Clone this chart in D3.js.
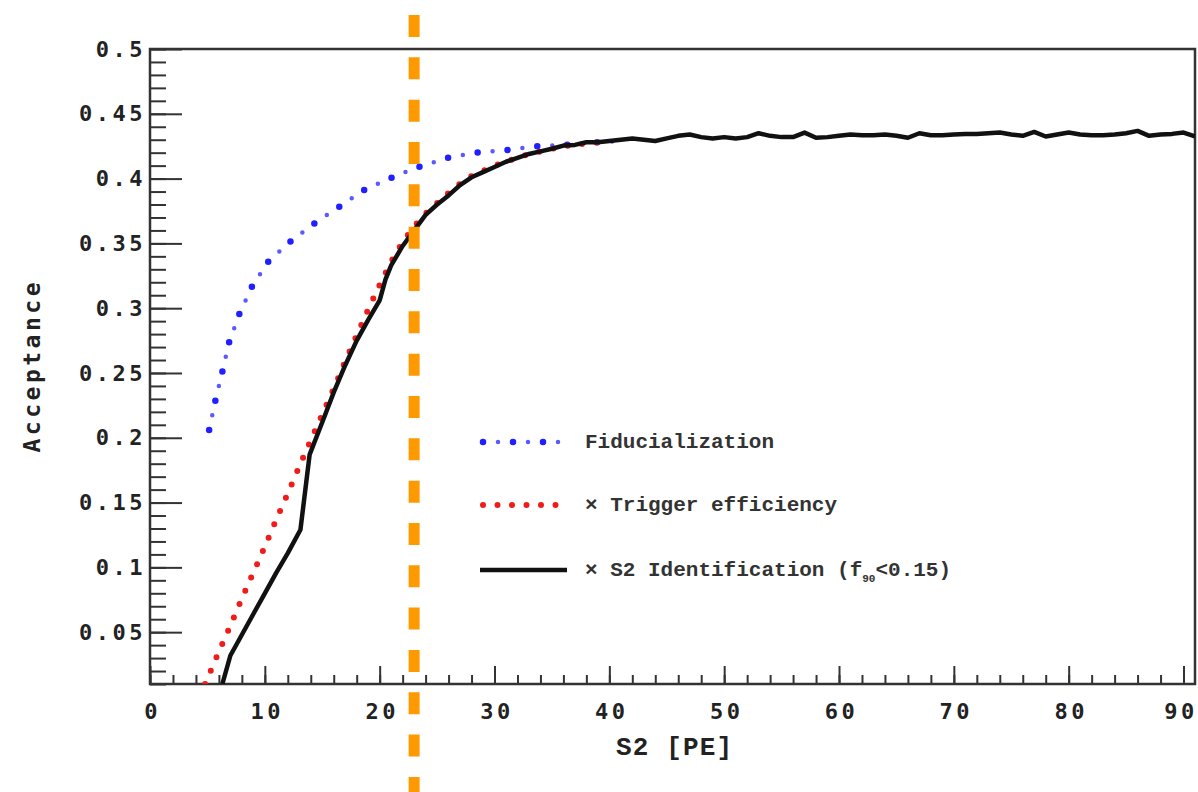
<!DOCTYPE html>
<html>
<head>
<meta charset="utf-8">
<script src="https://cdn.jsdelivr.net/npm/d3@7"></script>
<style>
  body { margin: 0; background: #fff; }
  svg { display: block; }
</style>
</head>
<body>
<div id="chart"></div>
<script>
// S2 values [PE] and acceptance
const fidX = [5.15, 5.7, 6.3, 6.9, 7.8, 8.9, 10.3, 12.3, 14.4, 16.6, 18.6, 21.1, 23.4, 25.9, 28.4, 31, 33.6, 36.2, 39, 41];
const fidY = [0.206, 0.229, 0.251, 0.274, 0.296, 0.317, 0.336, 0.352, 0.366, 0.379, 0.391, 0.401, 0.409, 0.416, 0.42, 0.422, 0.425, 0.426, 0.428, 0.429];

const trigX = [4.8, 6, 7, 8, 9, 10, 11, 12, 13, 14, 15, 16, 17, 18, 19, 20, 21, 22, 23, 24, 25, 26, 27, 28, 30, 33, 36, 40];
const trigY = [0.01, 0.035, 0.055, 0.076, 0.096, 0.116, 0.137, 0.157, 0.178, 0.198, 0.218, 0.238, 0.259, 0.279, 0.299, 0.318, 0.336, 0.351, 0.363, 0.373, 0.381, 0.389, 0.396, 0.402, 0.41, 0.419, 0.425, 0.429];

const idX = [6.3, 7, 8, 9, 10, 11, 12, 13.1, 13.9, 15, 16, 17, 18, 19, 20, 20.5, 21, 22, 23, 24, 25, 26, 27, 28, 29, 30, 31, 32, 33, 34, 35,
  36, 37, 38, 39, 40, 41, 42, 43, 44, 45, 46, 47, 48, 49, 50, 51, 52, 53, 54, 55, 56, 57, 58, 59, 60, 61, 62, 63, 64, 65,
  66, 67, 68, 69, 70, 71, 72, 73, 74, 75, 76, 77, 78, 79, 80, 81, 82, 83, 84, 85, 86, 87, 88, 89, 90, 91];
const idY = [0.01, 0.032, 0.048, 0.064, 0.08, 0.096, 0.111, 0.129, 0.187, 0.212, 0.235, 0.256, 0.275, 0.291, 0.306, 0.322, 0.333, 0.348, 0.36, 0.372, 0.38, 0.387, 0.395, 0.401, 0.405, 0.409, 0.413, 0.416, 0.419, 0.421, 0.423,
  0.4255, 0.426, 0.428, 0.428, 0.429, 0.43, 0.431, 0.43, 0.429, 0.431, 0.433, 0.434, 0.432, 0.431, 0.432, 0.431, 0.432, 0.435, 0.433, 0.432, 0.432, 0.4355, 0.4315, 0.432, 0.433, 0.434, 0.4335, 0.4335, 0.434, 0.433,
  0.4315, 0.435, 0.4335, 0.4335, 0.434, 0.4345, 0.4345, 0.435, 0.4355, 0.434, 0.433, 0.436, 0.4325, 0.434, 0.4355, 0.434, 0.4335, 0.4335, 0.434, 0.435, 0.4368, 0.433, 0.434, 0.4345, 0.4355, 0.4325];

const cutX = 23;

const xMajor = [0, 10, 20, 30, 40, 50, 60, 70, 80, 90];
const xMinor = d3.range(0, 92, 2);
const yMajor = [0.05, 0.1, 0.15, 0.2, 0.25, 0.3, 0.35, 0.4, 0.45, 0.5];
const yMinor = d3.range(1, 51).map(d => d / 100);

const legendLabels = ["Fiducialization", "\u00d7 Trigger efficiency", "\u00d7 S2 Identification (f"];

const W = 1198, H = 792;
const svg = d3.select("#chart").append("svg").attr("width", W).attr("height", H);

const x = d3.scaleLinear().domain([0, 91]).range([150, 1195]);
const y = d3.scaleLinear().domain([0.01, 0.5]).range([684, 49]);

const frameColor = "#333";
const tickFont = "'DejaVu Sans Mono', monospace";
const monoFont = "'Liberation Mono', 'Courier New', monospace";

svg.append("clipPath").attr("id", "plot")
  .append("rect").attr("x", x(0)).attr("y", y(0.5))
  .attr("width", x(91) - x(0)).attr("height", y(0.01) - y(0.5));

// ticks point inward, labels outside
function styleAxis(g) {
  g.select(".domain").remove();
  g.selectAll(".tick line").attr("stroke", frameColor).attr("stroke-width", 2);
  g.selectAll("text")
    .attr("font-family", tickFont).attr("font-weight", "bold")
    .attr("font-size", 22).attr("fill", "#222")
    .attr("letter-spacing", 3.5);
}

svg.append("g").attr("transform", `translate(${x(0)},0)`)
  .call(d3.axisLeft(y).tickValues(yMinor).tickSize(-16).tickFormat(""))
  .call(styleAxis);
svg.append("g").attr("transform", `translate(${x(0)},0)`)
  .call(d3.axisLeft(y).tickValues(yMajor).tickSize(-32).tickPadding(4).tickFormat(d => String(+d.toFixed(2))))
  .call(styleAxis);

svg.append("g").attr("transform", `translate(0,${y(0.01)})`)
  .call(d3.axisBottom(x).tickValues(xMinor).tickSize(-9).tickFormat(""))
  .call(styleAxis);
svg.append("g").attr("transform", `translate(0,${y(0.01)})`)
  .call(d3.axisBottom(x).tickValues(xMajor).tickSize(-18).tickPadding(19).tickFormat(d3.format("d")))
  .call(styleAxis)
  .selectAll("text").attr("dx", d => d === 90 ? -3 : 2);

// frame
svg.append("rect")
  .attr("x", x(0)).attr("y", y(0.5))
  .attr("width", x(91) - x(0)).attr("height", y(0.01) - y(0.5))
  .attr("fill", "none").attr("stroke", frameColor).attr("stroke-width", 2.5);

// axis titles
svg.append("text")
  .attr("transform", `translate(40,${(y(0.5) + y(0.01)) / 2 + 1}) rotate(-90)`)
  .attr("text-anchor", "middle")
  .attr("font-family", tickFont).attr("font-weight", "bold").attr("font-size", 23)
  .attr("fill", "#222").attr("textLength", 170).attr("lengthAdjust", "spacing")
  .text("Acceptance");

svg.append("text")
  .attr("x", 674).attr("y", 755)
  .attr("text-anchor", "middle")
  .attr("font-family", monoFont).attr("font-weight", "bold").attr("font-size", 26)
  .attr("fill", "#222").attr("textLength", 116).attr("lengthAdjust", "spacing")
  .text("S2 [PE]");

const line = d3.line().x(d => x(d[0])).y(d => y(d[1]));
const plot = svg.append("g").attr("clip-path", "url(#plot)");

const fid = d3.zip(fidX, fidY);
const trig = d3.zip(trigX, trigY);
const ident = d3.zip(idX, idY);

function blueDots(g, d) {
  g.append("path").attr("d", d).attr("fill", "none")
    .attr("stroke", "#1f1fff").attr("stroke-width", 6.5)
    .attr("stroke-linecap", "round").attr("stroke-dasharray", "0 30");
  g.append("path").attr("d", d).attr("fill", "none")
    .attr("stroke", "#5a5aff").attr("stroke-width", 4.5)
    .attr("stroke-linecap", "round").attr("stroke-dasharray", "0 30")
    .attr("stroke-dashoffset", -15);
}
function redDots(g, d) {
  g.append("path").attr("d", d).attr("fill", "none")
    .attr("stroke", "#f21b1b").attr("stroke-width", 6)
    .attr("stroke-linecap", "round").attr("stroke-dasharray", "0 14.5");
}
function blackLine(g, d) {
  g.append("path").attr("d", d).attr("fill", "none")
    .attr("stroke", "#111").attr("stroke-width", 4.5)
    .attr("stroke-linejoin", "round");
}

blueDots(plot, line(fid));
redDots(plot, line(trig));
blackLine(plot, line(ident));

// cut line
svg.append("line")
  .attr("x1", x(cutX)).attr("x2", x(cutX))
  .attr("y1", 0).attr("y2", H)
  .attr("stroke", "#ff9900").attr("stroke-width", 11)
  .attr("stroke-dasharray", "22 20.33").attr("stroke-dashoffset", 27.33);

// legend
const leg = svg.append("g");
const rows = [442, 505, 570];
const sample = d3.line();
blueDots(leg, sample([[483, rows[0]], [559, rows[0]]]));
redDots(leg, sample([[483, rows[1]], [556, rows[1]]]));
blackLine(leg, sample([[480, rows[2]], [567, rows[2]]]));

legendLabels.forEach((t, i) => {
  const txt = leg.append("text")
    .attr("x", 585).attr("y", rows[i] + 6)
    .attr("font-family", monoFont).attr("font-weight", "bold").attr("font-size", 21)
    .attr("fill", "#333")
    .attr("xml:space", "preserve");
  txt.append("tspan").text(t);
  if (i === 2) {
    txt.append("tspan").attr("font-size", 11).attr("dy", 6).text("90");
    txt.append("tspan").attr("dy", -6).text("<0.15)");
  }
});
</script>
</body>
</html>
